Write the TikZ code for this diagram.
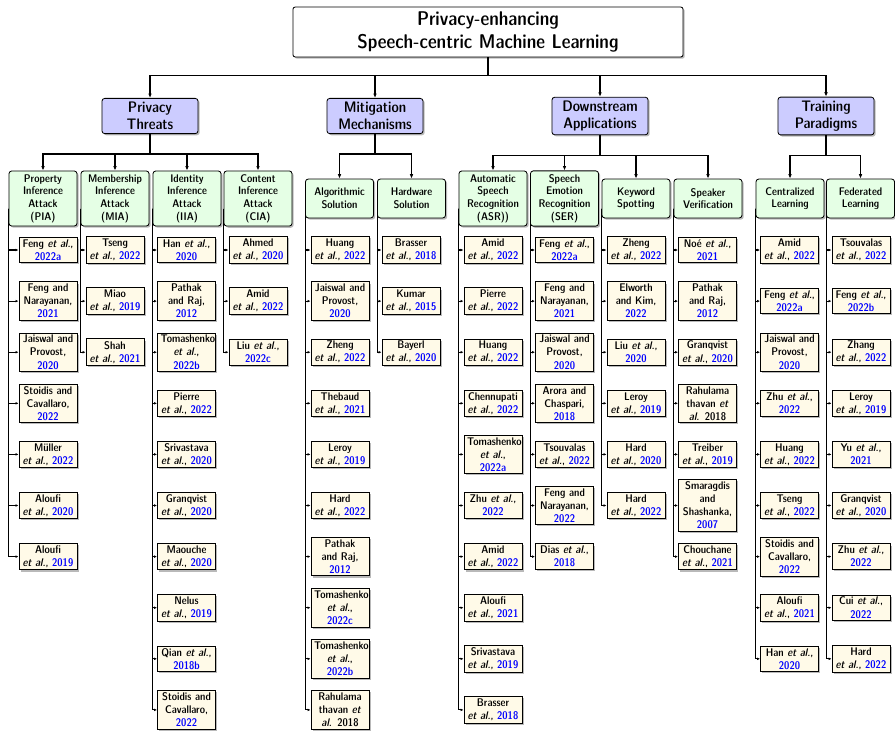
\documentclass[tikz,border=0pt]{standalone}
\usepackage{tikz}
\usetikzlibrary{positioning, calc, shadows, arrows.meta}

\definecolor{leafyellow}{RGB}{255,250,232}
\newcommand{\etal}{\textit{et al.}}
\newcommand{\cyear}[1]{\textcolor{blue}{#1}}

\tikzset{
  boxshadow/.style={drop shadow={shadow xshift=1.2pt, shadow yshift=-1.2pt, opacity=0.55}},
  rootbox/.style={draw, line width=0.6pt, fill=white, rounded corners=1.5pt, boxshadow,
    text width=273.6pt, align=center, inner xsep=3.6pt, inner ysep=3.4pt,
    font=\sffamily\fontseries{sbc}\fontsize{14.3}{16.5}\selectfont},
  topicbox/.style={draw, line width=0.6pt, fill=blue!20, rounded corners=2pt, boxshadow,
    text width=62pt, align=center, inner xsep=3.6pt, inner ysep=2.7pt,
    font=\sffamily\fontseries{sbc}\fontsize{11}{12.2}\selectfont},
  subbox/.style={draw, line width=0.6pt, fill=green!10, rounded corners=2pt, boxshadow,
    text width=44.6pt, align=center, inner xsep=2.2pt, inner ysep=2.5pt, minimum height=28pt,
    font=\sffamily\fontseries{sbc}\fontsize{8}{9.1}\selectfont},
  leaf/.style={draw, line width=0.6pt, fill=leafyellow, boxshadow,
    text width=37.4pt, align=center, inner xsep=2.2pt, inner ysep=1.6pt,
    font=\sffamily\fontseries{sbc}\fontsize{8}{9.4}\selectfont},
  edge/.style={line width=0.8pt, -{Latex[length=3.2pt,width=2.6pt]}},
  leafedge/.style={line width=0.8pt, -{Latex[length=2.2pt,width=2pt]}}
}

% one column of papers below a sub-topic
\newcommand{\leafcol}[3]{%
  \coordinate (#1-top) at ($(#1.west)+(0,10)$);
  \foreach \txt [count=\i] in {#3} {
    \node[leaf] (#1-\i) at (#2, {250+51.1*(\i-1)}) {\txt};
    \draw[leafedge] (#1-top) |- (#1-\i.west);
  }
}

\begin{document}
\begin{tikzpicture}[x=0.72pt, y=-0.72pt]
  \useasboundingbox (0,0) rectangle (895,730);

  % root and the four topics
  \node[rootbox] (root) at (488,32) {Privacy-enhancing\\Speech-centric Machine Learning};

  \node[topicbox] (threats)   at (150,116) {Privacy\\Threats};
  \node[topicbox] (mitig)     at (375,116) {Mitigation\\Mechanisms};
  \node[topicbox] (apps)      at (600,116) {Downstream\\Applications};
  \node[topicbox] (paradigms) at (826,116) {Training\\Paradigms};

  \foreach \t in {threats, mitig, apps, paradigms}
    \draw[edge] (root.south) -- ++(0,18) -| (\t.north);

  % sub-topics
  \node[subbox] (pia) at (43,198.5)  {Property\\Inference\\Attack\\(PIA)};
  \node[subbox] (mia) at (115,198.5) {Membership\\Inference\\Attack\\(MIA)};
  \node[subbox] (iia) at (187,198.5) {Identity\\Inference\\Attack\\(IIA)};
  \node[subbox] (cia) at (258,198.5) {Content\\Inference\\Attack\\(CIA)};

  \node[subbox] (algo) at (339.5,198.5) {Algorithmic\\Solution};
  \node[subbox] (hw)   at (411.5,198.5) {Hardware\\Solution};

  \node[subbox] (asr) at (493,198.5)   {Automatic\\Speech\\Recognition\\(ASR))};
  \node[subbox] (ser) at (564.5,198.5) {Speech\\Emotion\\Recognition\\(SER)};
  \node[subbox] (kws) at (636,198.5)   {Keyword\\Spotting};
  \node[subbox] (sv)  at (708,198.5)   {Speaker\\Verification};

  \node[subbox] (central) at (790,198.5)   {Centralized\\Learning};
  \node[subbox] (fed)     at (860.5,198.5) {Federated\\Learning};

  \foreach \s in {pia, mia, iia, cia}
    \draw[edge] (threats.south) -- ++(0,20) -| (\s.north);
  \foreach \s in {algo, hw}
    \draw[edge] (mitig.south) -- ++(0,20) -| (\s.north);
  \foreach \s in {asr, ser, kws, sv}
    \draw[edge] (apps.south) -- ++(0,20) -| (\s.north);
  \foreach \s in {central, fed}
    \draw[edge] (paradigms.south) -- ++(0,20) -| (\s.north);

  % papers
  \leafcol{pia}{48}{{Feng \etal,\\\cyear{2022a}}, {Feng and\\Narayanan,\\\cyear{2021}},
    {Jaiswal and\\Provost,\\\cyear{2020}}, {Stoidis and\\Cavallaro,\\\cyear{2022}},
    {M\"uller\\\etal, \cyear{2022}}, {Aloufi\\\etal, \cyear{2020}}, {Aloufi\\\etal, \cyear{2019}}}
  \leafcol{mia}{115}{{Tseng\\\etal, \cyear{2022}}, {Miao\\\etal, \cyear{2019}}, {Shah\\\etal, \cyear{2021}}}
  \leafcol{iia}{186.5}{{Han \etal,\\\cyear{2020}}, {Pathak\\and Raj,\\\cyear{2012}},
    {Tomashenko\\\etal,\\\cyear{2022b}}, {Pierre\\\etal, \cyear{2022}}, {Srivastava\\\etal, \cyear{2020}},
    {Granqvist\\\etal, \cyear{2020}}, {Maouche\\\etal, \cyear{2020}}, {Nelus\\\etal, \cyear{2019}},
    {Qian \etal,\\\cyear{2018b}}, {Stoidis and\\Cavallaro,\\\cyear{2022}}}
  \leafcol{cia}{258}{{Ahmed\\\etal, \cyear{2020}}, {Amid\\\etal, \cyear{2022}}, {Liu \etal,\\\cyear{2022c}}}

  \leafcol{algo}{340}{{Huang\\\etal, \cyear{2022}}, {Jaiswal and\\Provost,\\\cyear{2020}},
    {Zheng\\\etal, \cyear{2022}}, {Thebaud\\\etal, \cyear{2021}}, {Leroy\\\etal, \cyear{2019}},
    {Hard\\\etal, \cyear{2022}}, {Pathak\\and Raj,\\\cyear{2012}}, {Tomashenko\\\etal,\\\cyear{2022c}},
    {Tomashenko\\\etal,\\\cyear{2022b}}, {Rahulama\\thavan \textit{et}\\\textit{al.} 2018}}
  \leafcol{hw}{411}{{Brasser\\\etal, \cyear{2018}}, {Kumar\\\etal, \cyear{2015}}, {Bayerl\\\etal, \cyear{2020}}}

  \leafcol{asr}{493}{{Amid\\\etal, \cyear{2022}}, {Pierre\\\etal, \cyear{2022}}, {Huang\\\etal, \cyear{2022}},
    {Chennupati\\\etal, \cyear{2022}}, {Tomashenko\\\etal,\\\cyear{2022a}}, {Zhu \etal,\\\cyear{2022}},
    {Amid\\\etal, \cyear{2022}}, {Aloufi\\\etal, \cyear{2021}}, {Srivastava\\\etal, \cyear{2019}},
    {Brasser\\\etal, \cyear{2018}}}
  \leafcol{ser}{564.5}{{Feng \etal,\\\cyear{2022a}}, {Feng and\\Narayanan,\\\cyear{2021}},
    {Jaiswal and\\Provost,\\\cyear{2020}}, {Arora and\\Chaspari,\\\cyear{2018}},
    {Tsouvalas\\\etal, \cyear{2022}}, {Feng and\\Narayanan,\\\cyear{2022}}, {Dias \etal,\\\cyear{2018}}}
  \leafcol{kws}{636}{{Zheng\\\etal, \cyear{2022}}, {Elworth\\and Kim,\\\cyear{2022}}, {Liu \etal,\\\cyear{2020}},
    {Leroy\\\etal, \cyear{2019}}, {Hard\\\etal, \cyear{2020}}, {Hard\\\etal, \cyear{2022}}}
  \leafcol{sv}{707.5}{{No\'e \etal,\\\cyear{2021}}, {Pathak\\and Raj,\\\cyear{2012}},
    {Granqvist\\\etal, \cyear{2020}}, {Rahulama\\thavan \textit{et}\\\textit{al.} 2018},
    {Treiber\\\etal, \cyear{2019}}, {Smaragdis\\and\\Shashanka,\\\cyear{2007}}, {Chouchane\\\etal, \cyear{2021}}}

  \leafcol{central}{789.5}{{Amid\\\etal, \cyear{2022}}, {Feng \etal,\\\cyear{2022a}},
    {Jaiswal and\\Provost,\\\cyear{2020}}, {Zhu \etal,\\\cyear{2022}}, {Huang\\\etal, \cyear{2022}},
    {Tseng\\\etal, \cyear{2022}}, {Stoidis and\\Cavallaro,\\\cyear{2022}}, {Aloufi\\\etal, \cyear{2021}},
    {Han \etal,\\\cyear{2020}}}
  \leafcol{fed}{861}{{Tsouvalas\\\etal, \cyear{2022}}, {Feng \etal,\\\cyear{2022b}}, {Zhang\\\etal, \cyear{2022}},
    {Leroy\\\etal, \cyear{2019}}, {Yu \etal,\\\cyear{2021}}, {Granqvist\\\etal, \cyear{2020}},
    {Zhu \etal,\\\cyear{2022}}, {Cui \etal,\\\cyear{2022}}, {Hard\\\etal, \cyear{2022}}}
\end{tikzpicture}
\end{document}
